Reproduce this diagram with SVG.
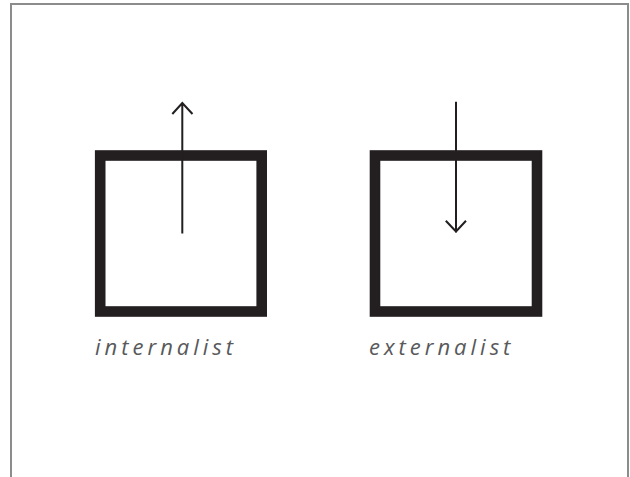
<svg xmlns="http://www.w3.org/2000/svg" width="630" height="477" viewBox="0 0 630 477">
<style>
.frame{fill:none;stroke:#8c8c8c;stroke-width:2}
.box{fill:none;stroke:#231f20;stroke-width:10.6}
.arr{fill:none;stroke:#231f20;stroke-width:2}
.lbl{font-family:"Open Sans","Liberation Sans",sans-serif;font-style:italic;font-size:22px;letter-spacing:4px;fill:#58595b}
</style>
<rect width="630" height="477" fill="#ffffff"/>
<path class="frame" d="M11,477 V4 H628 V477"/>
<g id="internalist">
<rect class="box" x="100.2" y="155.5" width="161.5" height="156"/>
<text class="lbl" x="95" y="355">internalist</text>
</g>
<g id="externalist">
<rect class="box" x="375" y="155.5" width="162" height="156"/>
<text class="lbl" x="369" y="355">externalist</text>
</g>
<g id="connectors">
<path class="arr" d="M182.3,233.5 V102.5 M172.3,114 L182.3,103 L192.5,114"/>
<path class="arr" d="M456,101.7 V232.5 M445.8,220.7 L456,231.5 L466,220.7"/>
</g>
</svg>
